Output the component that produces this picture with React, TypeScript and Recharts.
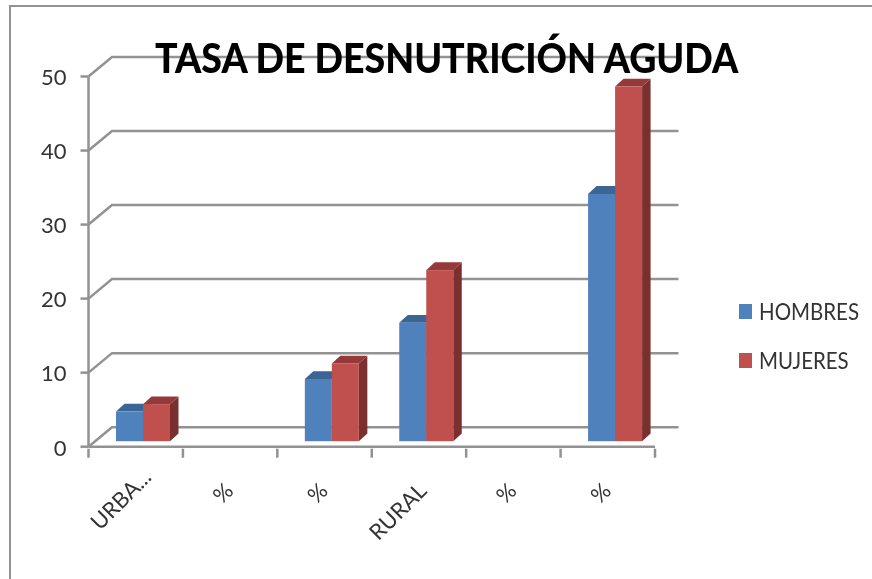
import { BarChart, Bar, XAxis, YAxis, CartesianGrid, Legend } from 'recharts';

const categories = ['URBA...', '%', '%', 'RURAL', '%', '%'];
const hombres = [4, null, 8.4, 16, null, 33.4];
const mujeres = [5, null, 10.5, 23.1, null, 47.9];
const yTicks = [0, 10, 20, 30, 40, 50];

const data = categories.map((name, i) => ({ name, hombres: hombres[i], mujeres: mujeres[i] }));

const FONT = 'Lato, sans-serif';
const AXIS_GREY = '#929292';
const TEXT = '#333333';
// depth of the back wall and of the bars, the 3D look of the old spreadsheet chart
const WALL_X = 23.5;
const WALL_Y = 19.5;
const BAR_SHIFT_X = 7.3;
const BAR_SHIFT_Y = -5.5;
const BAR_DEPTH_X = 8.5;
const BAR_DEPTH_Y = 7.8;

const WallLine = (props: any) => {
  const { x1, x2, y1 } = props;
  return (
    <polyline
      points={`${x1},${y1} ${x1 + WALL_X},${y1 - WALL_Y} ${x2 + WALL_X},${y1 - WALL_Y}`}
      fill="none"
      stroke={AXIS_GREY}
      strokeWidth={2.5}
    />
  );
};

const Bar3D = (top: string, side: string) => (props: any) => {
  const { x, y, width, height, fill } = props;
  if (!height || height <= 0) return <g />;
  const l = x + BAR_SHIFT_X;
  const r = l + width;
  const t = y + BAR_SHIFT_Y;
  const b = t + height;
  return (
    <g>
      <polygon
        points={`${r},${t} ${r + BAR_DEPTH_X},${t - BAR_DEPTH_Y} ${r + BAR_DEPTH_X},${b - BAR_DEPTH_Y} ${r},${b}`}
        fill={side}
      />
      <polygon
        points={`${l},${t} ${l + BAR_DEPTH_X},${t - BAR_DEPTH_Y} ${r + BAR_DEPTH_X},${t - BAR_DEPTH_Y} ${r},${t}`}
        fill={top}
      />
      <rect x={l} y={t} width={width} height={height} fill={fill} />
    </g>
  );
};

const CategoryTick = (props: any) => {
  const { x, y, payload, width, visibleTicksCount, index } = props;
  const band = width / visibleTicksCount;
  const label: string = payload.value;
  // longer labels sit further right, the cut one also higher
  const cut = label.endsWith('...');
  const ax = x + (cut ? 17 : label.length > 1 ? 9 : 4.7);
  const ay = y + (cut ? 30 : 43.5);
  return (
    <g>
      {index === 0 && <line x1={x - band / 2} x2={x - band / 2} y1={y} y2={y + 9} stroke={AXIS_GREY} strokeWidth={2.5} />}
      <line x1={x + band / 2} x2={x + band / 2} y1={y} y2={y + 9} stroke={AXIS_GREY} strokeWidth={2.5} />
      <text
        x={ax}
        y={ay}
        textAnchor="end"
        transform={`rotate(-45 ${ax} ${ay})`}
        fontFamily={FONT}
        fontSize={22}
        fill={TEXT}
      >
        {label}
      </text>
    </g>
  );
};

const LegendBox = ({ payload }: any) => (
  <div style={{ width: 217, height: 100, position: 'relative', fontFamily: FONT }}>
    {(payload ?? []).map((item: any, i: number) => (
      <div key={item.value} style={{ position: 'absolute', left: 84, top: i * 49, display: 'flex', alignItems: 'center' }}>
        <span style={{ width: 13, height: 15, background: item.color, display: 'inline-block', marginRight: 7 }} />
        <span
          style={{
            fontSize: 23,
            color: TEXT,
            lineHeight: '28px',
            whiteSpace: 'nowrap',
            display: 'inline-block',
            transform: 'scaleX(0.89)',
            transformOrigin: 'left center',
          }}
        >
          {item.value}
        </span>
      </div>
    ))}
  </div>
);

export default function App() {
  return (
    <div
      style={{
        position: 'absolute',
        left: 0,
        top: 0,
        width: 872,
        height: 579,
        background: '#fff',
        overflow: 'hidden',
        filter: 'blur(0.5px)',
      }}
    >
      <div
        style={{
          position: 'absolute',
          left: 9,
          top: 5,
          width: 880,
          height: 600,
          borderLeft: `2.5px solid ${AXIS_GREY}`,
          borderTop: `2.5px solid ${AXIS_GREY}`,
        }}
      />
      <BarChart
        width={872}
        height={579}
        data={data}
        barCategoryGap="21.4%"
        barGap={0}
        margin={{ top: 76.5, right: 0, left: 0, bottom: 0 }}
        style={{ position: 'absolute', left: 0, top: 0 }}
      >
        <CartesianGrid horizontal={WallLine} vertical={false} syncWithTicks />
        <XAxis
          dataKey="name"
          height={132.3}
          interval={0}
          stroke={AXIS_GREY}
          strokeWidth={2.5}
          tickLine={false}
          tickSize={0}
          tick={CategoryTick}
        />
        <YAxis
          width={88.5}
          domain={[0, 50]}
          ticks={yTicks}
          stroke={AXIS_GREY}
          strokeWidth={2.5}
          tickSize={8}
          tickMargin={14}
          tick={{ fontSize: 22, fill: TEXT, fontFamily: FONT, dy: 1 }}
        />
        <Legend
          layout="vertical"
          align="right"
          verticalAlign="top"
          width={217}
          wrapperStyle={{ top: 297 }}
          content={LegendBox}
        />
        <Bar dataKey="hombres" name="HOMBRES" fill="#4f81bd" shape={Bar3D('#3a6594', '#38618f')} isAnimationActive={false} />
        <Bar dataKey="mujeres" name="MUJERES" fill="#c0504d" shape={Bar3D('#95393a', '#7b3030')} isAnimationActive={false} />
      </BarChart>
      <div
        style={{
          position: 'absolute',
          left: 155,
          top: 33,
          fontFamily: FONT,
          fontWeight: 900,
          fontSize: 41,
          color: '#000',
          whiteSpace: 'nowrap',
          lineHeight: '50px',
          transform: 'scaleX(0.915)',
          transformOrigin: 'left center',
        }}
      >
        TASA DE DESNUTRICIÓN AGUDA
      </div>
    </div>
  );
}
